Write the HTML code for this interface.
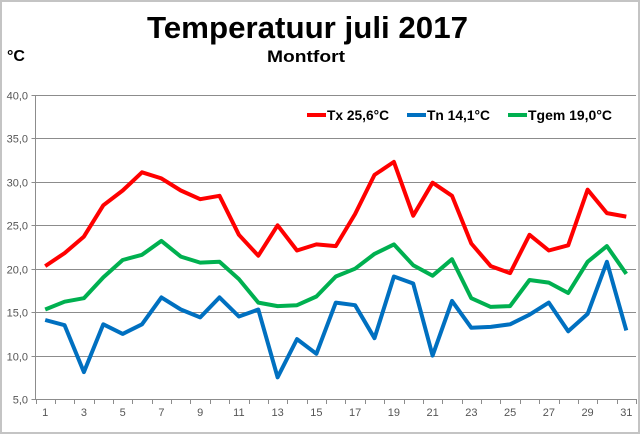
<!DOCTYPE html>
<html><head><meta charset="utf-8"><style>
html,body{margin:0;padding:0;background:#fff}
svg{display:block}
text{font-family:"Liberation Sans",sans-serif}
</style></head><body>
<svg width="640" height="435" viewBox="0 0 640 435" xmlns="http://www.w3.org/2000/svg">
<rect x="1" y="1" width="638" height="432" fill="#fff" stroke="#c4c4c4" stroke-width="2"/>
<text x="147" y="38" font-size="31" font-weight="bold" textLength="321" lengthAdjust="spacingAndGlyphs">Temperatuur juli 2017</text>
<text x="267" y="62" font-size="17" font-weight="bold" textLength="78" lengthAdjust="spacingAndGlyphs">Montfort</text>
<text x="7" y="61" font-size="16" font-weight="bold">°C</text>
<g id="grid" stroke="#8c8c8c" stroke-width="1"></g>
<g id="ylab" font-size="11" fill="#555" text-anchor="end"></g>
<g id="xlab" font-size="11" fill="#555" text-anchor="middle"></g>
<g id="series" fill="none" stroke-width="4" stroke-linejoin="round"></g>
<g font-size="14" font-weight="bold">
<line x1="307" y1="115" x2="326" y2="115" stroke="#ff0000" stroke-width="4"/>
<text x="327" y="120" textLength="62" lengthAdjust="spacingAndGlyphs">Tx 25,6°C</text>
<line x1="407" y1="115" x2="426" y2="115" stroke="#0070c0" stroke-width="4"/>
<text x="427" y="120" textLength="63" lengthAdjust="spacingAndGlyphs">Tn 14,1°C</text>
<line x1="508" y1="115" x2="527" y2="115" stroke="#00b050" stroke-width="4"/>
<text x="528" y="120" textLength="84" lengthAdjust="spacingAndGlyphs">Tgem 19,0°C</text>
</g>
</svg>
<script>
const NS="http://www.w3.org/2000/svg";
const L=35.5,R=636,T=95,B=399;
const Y=v=>B-(v-5)*(B-T)/35;
const W=(R-L)/31;
const X=i=>L+W*(i+0.5);
function el(p,n,a,t){const e=document.createElementNS(NS,n);for(const k in a)e.setAttribute(k,a[k]);if(t!==undefined)e.textContent=t;document.getElementById(p).appendChild(e);}
for(let v=5;v<=40;v+=5){const y=Math.round(Y(v))+0.5;el("grid","line",{x1:L-4,x2:R,y1:y,y2:y});el("ylab","text",{x:28,y:y+4},v.toFixed(1).replace(".",","));}
el("grid","line",{x1:L,x2:L,y1:T,y2:B+0.5});
for(let i=0;i<=31;i++){const x=Math.round(L+W*i)+0.5;el("grid","line",{x1:x,x2:x,y1:B,y2:B+5});}
for(let i=0;i<31;i+=2)el("xlab","text",{x:X(i),y:416},i+1);
const tx=[20.3,21.8,23.7,27.3,29.0,31.1,30.4,29.0,28.0,28.4,23.9,21.5,25.0,22.1,22.8,22.6,26.3,30.8,32.3,26.1,29.9,28.4,22.9,20.3,19.5,23.9,22.1,22.7,29.1,26.4,26.0];
const tn=[14.1,13.5,8.1,13.6,12.5,13.6,16.7,15.3,14.4,16.7,14.5,15.3,7.5,11.9,10.2,16.1,15.8,12.0,19.1,18.3,10.0,16.3,13.2,13.3,13.6,14.7,16.1,12.8,14.8,20.8,12.9];
const tg=[15.3,16.2,16.6,19.0,21.0,21.6,23.2,21.4,20.7,20.8,18.8,16.1,15.7,15.8,16.8,19.1,20.0,21.7,22.8,20.4,19.2,21.1,16.6,15.6,15.7,18.7,18.4,17.2,20.8,22.6,19.4];
[[tx,"#ff0000"],[tn,"#0070c0"],[tg,"#00b050"]].forEach(([d,c])=>{el("series","polyline",{stroke:c,points:d.map((v,i)=>X(i).toFixed(1)+","+Y(v).toFixed(1)).join(" ")});});
</script>
</body></html>
